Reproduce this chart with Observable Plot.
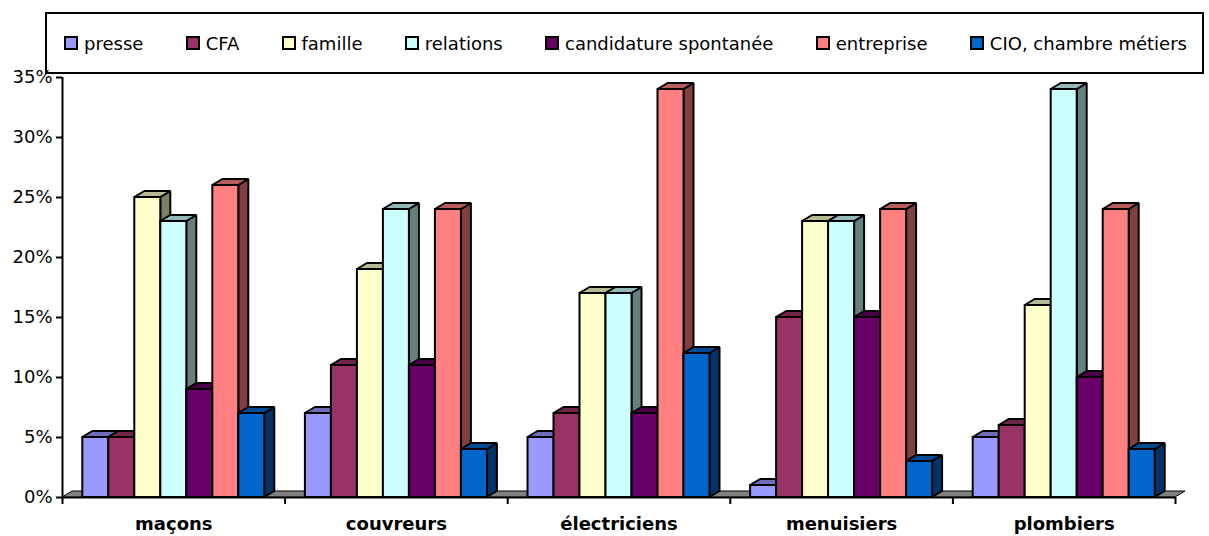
<!DOCTYPE html>
<html>
<head>
<meta charset="utf-8">
<script src="https://cdn.jsdelivr.net/npm/d3@7"></script>
<script src="https://cdn.jsdelivr.net/npm/@observablehq/plot@0.6"></script>
<style>
  body { margin: 0; background: #fff; font-family: "DejaVu Sans", sans-serif; color: #000; }
  #legend {
    box-sizing: border-box; margin: 12px 0 0 45px; width: 1159px; height: 62px;
    border: 2px solid #000; background: #fff;
    display: flex; justify-content: space-between; align-items: center;
    padding: 0 15px 0 17px; font-size: 18px;
  }
  .item { display: flex; align-items: center; white-space: nowrap; }
  .sw { width: 10px; height: 10px; border: 2px solid #000; margin-right: 6px; }
</style>
</head>
<body>
<div id="legend"></div>
<div id="chart"></div>
<script>
// Trades and the channel through which apprentices found their placement
const categories = ["maçons", "couvreurs", "électriciens", "menuisiers", "plombiers"];
const sources = ["presse", "CFA", "famille", "relations", "candidature spontanée", "entreprise", "CIO, chambre métiers"];
const colors = ["#9999FF", "#993366", "#FFFFCC", "#CCFFFF", "#660066", "#FF8080", "#0066CC"];

// Percent per trade, one array per source
const presse      = [5, 7, 5, 1, 5];
const cfa         = [5, 11, 7, 15, 6];
const famille     = [25, 19, 17, 23, 16];
const relations   = [23, 24, 17, 23, 34];
const candidature = [9, 11, 7, 15, 10];
const entreprise  = [26, 24, 34, 24, 24];
const cio         = [7, 4, 12, 3, 4];

const yTicks = [0, 5, 10, 15, 20, 25, 30, 35];

const series = [presse, cfa, famille, relations, candidature, entreprise, cio];

// Legend
const legend = d3.select("#legend");
sources.forEach((s, j) => {
  const it = legend.append("div").attr("class", "item");
  it.append("div").attr("class", "sw").style("background", colors[j]);
  it.append("span").text(s);
});

// Geometry of the pseudo-3D columns
const W = 1209, H = 462, mL = 62, mR = 34, mT = 3, mB = 39;
const unitPx = (W - mL - mR) / categories.length;
const barW = 26 / unitPx;       // column width in x units
const depthX = 10 / unitPx;     // receding depth, horizontal
const depthY = 0.5;             // receding depth, in percent

const shade = (c, k) => {
  const r = d3.rgb(c);
  return d3.rgb(r.r * k, r.g * k, r.b * k).formatHex();
};

const bars = [];
categories.forEach((c, i) => {
  series.forEach((vals, j) => {
    const x1 = i + (1 - series.length * barW) / 2 + j * barW;
    bars.push({key: `${i}-${j}`, x1, x2: x1 + barW, v: vals[i], color: colors[j]});
  });
});

const sides = bars.flatMap(b => [
  {key: b.key, x: b.x2, y1: 0, y2: b.v, fill: shade(b.color, 0.5)},
  {key: b.key, x: b.x2 + depthX, y1: depthY, y2: b.v + depthY, fill: shade(b.color, 0.5)}
]);
const tops = bars.flatMap(b => [
  {key: b.key, y: b.v, x1: b.x1, x2: b.x2, fill: shade(b.color, 0.72)},
  {key: b.key, y: b.v + depthY, x1: b.x1 + depthX, x2: b.x2 + depthX, fill: shade(b.color, 0.72)}
]);
const n = categories.length;
const floor = [
  {y: 0, x1: 0, x2: n},
  {y: depthY, x1: depthX, x2: n + depthX}
];

const edge = {stroke: "#000", strokeWidth: 2, strokeLinejoin: "miter"};

const chart = Plot.plot({
  width: W, height: H,
  marginLeft: mL, marginRight: mR, marginTop: mT, marginBottom: mB,
  style: {overflow: "visible", background: "transparent", fontFamily: "DejaVu Sans, sans-serif", fontSize: "18px", color: "#000"},
  x: {domain: [0, n]},
  y: {domain: [0, 35]},
  color: {type: "identity"},
  marks: [
    Plot.areaX(floor, {y: "y", x1: "x1", x2: "x2", fill: "#808080", stroke: "#000", strokeWidth: 1}),
    Plot.areaY(sides, {x: "x", y1: "y1", y2: "y2", z: "key", fill: "fill", ...edge}),
    Plot.areaX(tops, {y: "y", x1: "x1", x2: "x2", z: "key", fill: "fill", ...edge}),
    Plot.rect(bars, {x1: "x1", x2: "x2", y1: () => 0, y2: "v", fill: "color", ...edge}),
    Plot.ruleY([0], {x1: 0, x2: n, strokeWidth: 2}),
    Plot.ruleX([0], {y1: 0, y2: 35, strokeWidth: 2}),
    Plot.axisY(yTicks, {tickFormat: d => d + "%", tickSize: 6, tickPadding: 4, strokeWidth: 2, fontSize: 18, label: null}),
    Plot.axisX(d3.range(n + 1), {tickFormat: () => "", tickSize: 7, strokeWidth: 2, label: null}),
    Plot.text(categories, {x: (d, i) => i + 0.5, y: () => 0, dy: 27, fontWeight: "bold", fontSize: 18})
  ]
});
document.getElementById("chart").append(chart);
</script>
</body>
</html>
